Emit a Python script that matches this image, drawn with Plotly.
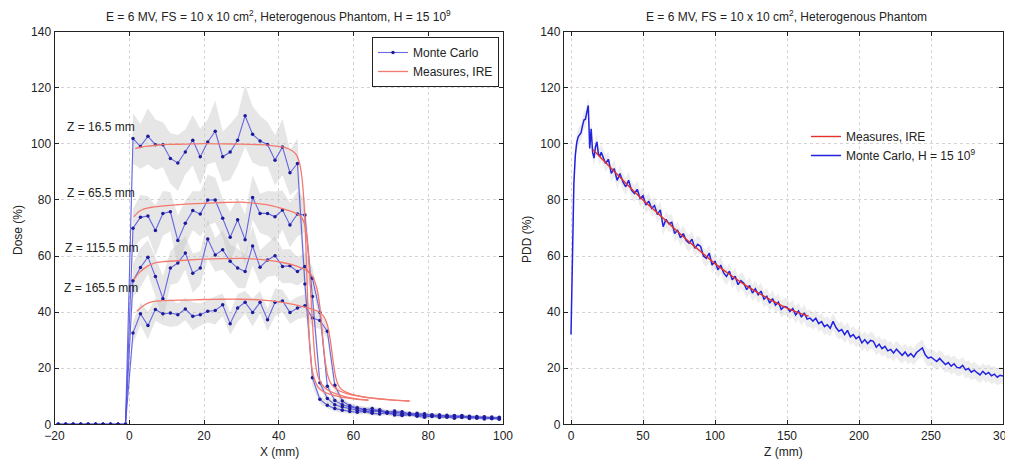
import plotly.graph_objects as go

# ---------------- Left panel data: lateral dose profiles ----------------
x_mc = [-19, -17, -15, -13, -11, -9, -7, -5, -3, -1,
        1, 3, 5, 7, 9, 11, 13, 15, 17, 19, 21, 23, 25, 27, 29, 31, 33, 35, 37, 39,
        41, 43, 45, 47, 49, 51, 53, 55, 57, 59, 61, 63, 65, 67, 69, 71, 73, 75, 77, 79,
        81, 83, 85, 87, 89, 91, 93, 95, 97, 99]

mc_z16 = [0, 0, 0, 0, 0, 0, 0, 0, 0, 0,
          101.9, 99.1, 102.7, 99.7, 99.7, 94.8, 93.2, 97.1, 101.3, 95.4, 100.7, 104.5, 95.4, 97.1, 101.3,
          110.0, 103.4, 101.0, 99.8, 94.2, 98.9, 89.7, 93.0, 50.0, 16.6, 8.9, 6.8, 5.6, 5.0, 4.6,
          4.3, 4.6, 3.9, 3.7, 4.1, 3.3, 3.1, 3.4, 2.9, 2.5, 3.0, 2.4, 2.6, 2.2, 2.8, 2.1, 2.4, 1.9, 2.2, 1.8]
mc_z65 = [0, 0, 0, 0, 0, 0, 0, 0, 0, 0,
          69.9, 73.8, 74.3, 69.1, 75.2, 75.8, 65.5, 71.7, 76.2, 75.0, 80.0, 80.0, 73.5, 66.7, 72.9,
          65.8, 80.9, 75.2, 75.2, 74.0, 76.4, 71.1, 75.0, 74.6, 45.6, 14.8, 9.2, 7.0, 6.2, 5.5,
          5.0, 4.7, 4.4, 4.8, 3.9, 3.8, 3.5, 3.9, 3.2, 3.0, 2.8, 3.2, 2.6, 2.9, 2.4, 2.7, 2.2, 2.5, 2.0, 2.3]
mc_z115 = [0, 0, 0, 0, 0, 0, 0, 0, 0, 0,
           51.2, 55.9, 59.6, 52.7, 44.8, 55.7, 57.5, 61.1, 53.9, 55.7, 66.1, 60.4, 62.2, 58.1, 55.7,
           54.5, 63.6, 56.0, 58.6, 60.1, 56.3, 56.5, 54.5, 56.3, 52.1, 40.0, 13.6, 8.5, 7.0, 6.3,
           5.6, 5.2, 5.6, 4.6, 4.3, 4.7, 3.9, 3.6, 3.9, 3.2, 3.4, 2.9, 3.2, 2.7, 3.1, 2.5, 2.8, 2.3, 2.6, 2.1]
mc_z165 = [0, 0, 0, 0, 0, 0, 0, 0, 0, 0,
           32.6, 39.4, 35.2, 40.9, 39.4, 39.7, 39.1, 41.1, 38.5, 39.1, 40.3, 40.6, 42.6, 35.9, 41.5,
           43.5, 39.9, 43.5, 37.3, 43.5, 44.0, 39.9, 41.5, 42.3, 37.9, 37.0, 33.2, 13.9, 8.3, 6.6,
           5.9, 5.3, 4.8, 5.2, 4.4, 4.1, 4.5, 3.7, 3.5, 3.8, 3.1, 3.3, 2.8, 3.1, 2.6, 2.9, 2.4, 2.7, 2.2, 2.5]

unc_z16 = [0, 0, 0, 0, 0, 0, 0, 0, 0, 0,
           9, 8, 10, 9, 8, 9, 10, 8, 9, 10, 8, 11, 9, 10, 9, 11, 10, 9, 8, 9, 10, 8, 9,
           6, 3, 1.5, 1.2, 1.0, 1.0, 0.9, 0.9, 0.9, 0.8, 0.8, 0.8, 0.8, 0.7, 0.7, 0.7, 0.7, 0.7,
           0.6, 0.6, 0.6, 0.6, 0.6, 0.6, 0.5, 0.5, 0.5]
unc_z65 = [0, 0, 0, 0, 0, 0, 0, 0, 0, 0,
           7, 8, 7, 9, 8, 7, 9, 8, 7, 8, 9, 8, 7, 9, 8, 9, 8, 7, 8, 9, 7, 8, 8, 6,
           4, 2, 1.3, 1.1, 1.0, 1.0, 0.9, 0.9, 0.9, 0.8, 0.8, 0.8, 0.8, 0.7, 0.7, 0.7, 0.7, 0.7,
           0.6, 0.6, 0.6, 0.6, 0.6, 0.5, 0.5, 0.5]
unc_z115 = [0, 0, 0, 0, 0, 0, 0, 0, 0, 0,
            6, 7, 6, 7, 8, 6, 7, 6, 7, 6, 7, 6, 7, 6, 7, 6, 7, 6, 6, 7, 6, 6, 5, 5, 4,
            3, 1.5, 1.1, 1.0, 1.0, 0.9, 0.9, 0.9, 0.8, 0.8, 0.8, 0.8, 0.7, 0.7, 0.7, 0.7, 0.7,
            0.6, 0.6, 0.6, 0.6, 0.6, 0.5, 0.5, 0.5]
unc_z165 = [0, 0, 0, 0, 0, 0, 0, 0, 0, 0,
            4, 4, 5, 4, 4, 5, 4, 4, 5, 4, 4, 5, 4, 4, 5, 4, 5, 4, 4, 5, 4, 4, 4, 4, 3, 3, 2.5,
            2, 1.2, 1.0, 1.0, 0.9, 0.9, 0.9, 0.8, 0.8, 0.8, 0.8, 0.7, 0.7, 0.7, 0.7,
            0.6, 0.6, 0.6, 0.6, 0.6, 0.5, 0.5, 0.5]

meas_x_z16 = [1.6, 3, 5, 8, 10, 15, 20, 25, 30, 35, 38, 41, 43, 44.5, 45.5, 46.2, 46.8, 47.3,
              47.8, 48.3, 49, 50, 51, 53, 55, 58, 61, 64]
meas_y_z16 = [98.3, 98.8, 99.2, 99.6, 99.8, 99.9, 100.1, 100.0, 99.9, 99.7, 99.4, 98.9, 98.0, 96.5,
              93.5, 88, 78, 62, 42, 28, 19, 14.5, 12.5, 11, 10.2, 9.4, 8.9, 8.5]
meas_x_z65 = [1.2, 2.5, 4, 6, 10, 15, 20, 25, 30, 35, 38, 41, 44, 45.5, 46.5, 47.3, 48, 48.6,
              49.2, 49.8, 50.5, 51.5, 53, 55, 58, 61, 64]
meas_y_z65 = [74.0, 75.8, 76.8, 77.4, 78.0, 78.5, 78.8, 79.1, 79.2, 78.6, 78.0, 76.9, 75.6, 74.6,
              72.8, 69, 60, 46, 32, 22, 17, 14.2, 12.3, 11.0, 9.8, 9.1, 8.7]
meas_x_z115 = [1.2, 2.5, 4, 6.5, 9, 15, 20, 25, 30, 35, 41, 45, 47.5, 49, 50.2, 51, 51.7, 52.3,
               53, 54, 55.5, 58, 62, 66, 70, 75]
meas_y_z115 = [51.5, 53.8, 55.6, 57.4, 58.0, 58.5, 58.9, 59.1, 59.2, 58.8, 57.7, 56.3, 54.8, 52.7,
               48.5, 42, 32, 24, 18, 14.5, 12.5, 11.0, 9.9, 9.2, 8.7, 8.3]
meas_x_z165 = [2, 3.5, 5, 6.5, 9, 15, 20, 25, 30, 35, 41, 47, 50.5, 52, 53, 53.8, 54.5, 55.2,
               56, 57, 58.5, 61, 65, 70, 75]
meas_y_z165 = [40.3, 42.0, 43.2, 43.8, 44.1, 44.3, 44.5, 44.6, 44.6, 44.4, 43.5, 41.8, 40.3, 38.5,
               35.5, 30, 23, 17, 13.8, 12.2, 11.2, 10.2, 9.3, 8.7, 8.3]

depth_labels = ["Z = 16.5 mm", "Z = 65.5 mm", "Z = 115.5 mm", "Z = 165.5 mm"]
label_x = [-7.5, -7.5, -7.5, -7.5]
label_y = [106, 82.4, 62.9, 48.7]

# ---------------- Right panel data: depth dose ----------------
z_mc = [0, 1, 2, 3, 4, 5, 6, 7, 8, 9, 10, 11, 12, 13, 14, 15, 16, 17, 18, 19, 20, 21, 22,
        24, 26, 28, 30, 32, 34, 36, 38, 40, 42, 44, 46, 48, 50, 52, 54, 56, 58, 60, 62, 64, 66,
        68, 70, 72, 74, 76, 78, 80, 82, 84, 86, 88, 90, 92, 94, 96, 98, 100, 102, 104, 106,
        108, 110, 112, 114, 116, 118, 120, 122, 124, 126, 128, 130, 132, 134, 136, 138, 140,
        142, 144, 146, 148, 150, 152, 154, 156, 158, 160, 162, 164, 166, 168, 170, 172, 174,
        176, 178, 180, 182, 184, 186, 188, 190, 192, 194, 196, 198, 200, 202, 204, 206, 208,
        210, 212, 214, 216, 218, 220, 222, 224, 226, 228, 230, 232, 234, 236, 238, 240, 242,
        244, 246, 248, 250, 252, 254, 256, 258, 260, 262, 264, 266, 268, 270, 272, 274, 276,
        278, 280, 282, 284, 286, 288, 290, 292, 294, 296, 298, 300]
pdd_mc = [32.0, 68.0, 86.0, 96.0, 100.5, 102.5, 103.5, 104.0, 106.5, 108.5, 108.8, 111.0, 113.7,
          98.4, 105.4, 97.0, 94.9, 99.0, 100.7, 96.5, 95.4, 97.0, 95.6,
          93.0, 94.5, 89.5, 91.2, 87.0, 89.4, 86.5, 84.7, 87.0, 83.5, 82.3, 83.8, 80.5, 81.5,
          78.2, 79.6, 77.0, 78.0, 74.8, 76.5, 70.5, 73.1, 71.5, 72.0, 68.0, 69.3, 66.5, 68.0,
          65.5, 64.6, 66.0, 62.8, 64.2, 63.4, 60.0, 59.2, 61.0, 56.8, 58.2, 55.1, 56.8, 54.0,
          52.7, 54.6, 51.5, 52.8, 49.8, 51.2, 50.3, 48.0, 49.5, 46.8, 48.3, 46.2, 47.5, 44.6,
          45.6, 43.2, 44.8, 42.5, 43.6, 41.0, 42.0, 41.8, 40.2, 41.3, 39.0, 40.4, 38.2, 39.7,
          37.5, 37.9, 36.8, 37.8, 35.9, 36.6, 34.8, 35.5, 34.2, 36.7, 34.5, 33.2, 33.8, 32.0,
          33.5, 31.2, 32.0, 30.5, 31.3, 29.0, 30.2, 28.8, 29.9, 29.6, 27.5, 28.6, 27.0, 27.8,
          26.2, 26.7, 25.4, 26.8, 25.5, 24.6, 25.8, 24.3, 25.2, 24.0, 25.6, 26.4, 27.2, 24.8,
          23.6, 24.0, 23.1, 22.4, 23.5, 22.5, 21.3, 22.0, 20.7, 21.6, 20.3, 20.1, 21.0, 19.4,
          19.9, 18.6, 19.3, 18.4, 17.6, 18.9, 17.8, 18.5, 17.3, 17.9, 16.8, 17.5, 17.2]
pdd_unc = 3.0

z_meas = [15, 18, 25, 30, 40, 50, 60, 70, 80, 90, 100, 110, 120, 130, 140, 150, 160, 165]
pdd_meas = [98.0, 96.5, 92.8, 90.2, 85.0, 80.0, 75.4, 70.6, 66.0, 61.6, 57.3, 53.5, 50.0, 46.9,
            44.0, 41.4, 39.4, 38.6]

# ---------------- Styling / layout helpers ----------------
FONT = "Liberation Sans, Arial, Helvetica, sans-serif"
BAND = "rgba(195,195,195,0.42)"
MC_LINE_L = "rgba(80,80,225,0.85)"
MC_MARK = "#1c1c9a"
MEAS_L = "#f27a6e"
MC_R = "#2222e0"
MEAS_R = "#e4312b"

# the page body has an 8 px margin; the figure is sized so it fits the window
OFF = 8
W, H = 1013 - OFF, 460 - OFF


def px(xp):  # page pixel -> paper x
    return (xp - OFF) / W


def py(yp):  # page pixel -> paper y
    return 1 - (yp - OFF) / H


fig = go.Figure()

profiles = [
    (mc_z16, unc_z16, meas_x_z16, meas_y_z16),
    (mc_z65, unc_z65, meas_x_z65, meas_y_z65),
    (mc_z115, unc_z115, meas_x_z115, meas_y_z115),
    (mc_z165, unc_z165, meas_x_z165, meas_y_z165),
]

# uncertainty bands
for mc, unc, _, _ in profiles:
    upper = [v + u for v, u in zip(mc, unc)]
    lower = [v - u for v, u in zip(mc, unc)]
    fig.add_trace(go.Scatter(
        x=x_mc + x_mc[::-1], y=upper + lower[::-1], fill="toself", fillcolor=BAND,
        line=dict(width=0), mode="lines", showlegend=False, hoverinfo="skip",
        xaxis="x", yaxis="y"))

for i, (mc, unc, mx, my) in enumerate(profiles):
    fig.add_trace(go.Scatter(
        x=x_mc, y=mc, mode="lines+markers", name="Monte Carlo",
        line=dict(color=MC_LINE_L, width=1.1),
        marker=dict(color=MC_MARK, size=3.5),
        showlegend=(i == 0), legend="legend", legendrank=1,
        xaxis="x", yaxis="y"))
for i, (mc, unc, mx, my) in enumerate(profiles):
    fig.add_trace(go.Scatter(
        x=mx, y=my, mode="lines", name="Measures, IRE",
        line=dict(color=MEAS_L, width=1.3, shape="spline", smoothing=0.5),
        showlegend=(i == 0), legend="legend", legendrank=2,
        xaxis="x", yaxis="y"))

# right panel
up_r = [v + pdd_unc for v in pdd_mc]
lo_r = [v - pdd_unc for v in pdd_mc]
fig.add_trace(go.Scatter(
    x=z_mc + z_mc[::-1], y=up_r + lo_r[::-1], fill="toself", fillcolor="rgba(200,200,200,0.32)",
    line=dict(width=0), mode="lines", showlegend=False, hoverinfo="skip",
    xaxis="x2", yaxis="y2"))
fig.add_trace(go.Scatter(
    x=z_mc, y=pdd_mc, mode="lines", name="Monte Carlo, H = 15 10<sup>9</sup>",
    line=dict(color=MC_R, width=1.5), legend="legend2", legendrank=2,
    xaxis="x2", yaxis="y2"))
fig.add_trace(go.Scatter(
    x=z_meas, y=pdd_meas, mode="lines", name="Measures, IRE",
    line=dict(color=MEAS_R, width=1.4, shape="spline", smoothing=0.6),
    legend="legend2", legendrank=1,
    xaxis="x2", yaxis="y2"))

axis_common = dict(
    showline=True, linecolor="#222", linewidth=1, mirror="ticks",
    ticks="inside", ticklen=4, tickcolor="#222",
    showgrid=True, gridcolor="#d4d4d4", griddash="dot", gridwidth=1,
    zeroline=False, automargin=False, ticklabeloverflow="allow",
    tickfont=dict(family=FONT, size=12, color="#222"),
)

y_dom = [py(424.3), py(31.7)]

fig.update_layout(
    width=W, height=H,
    margin=dict(l=0, r=0, t=0, b=0, pad=0, autoexpand=False),
    paper_bgcolor="white", plot_bgcolor="white",
    font=dict(family=FONT, size=12, color="#222"),
    xaxis=dict(domain=[px(54.5), px(503)], range=[-20, 100], dtick=20, anchor="y", **axis_common),
    yaxis=dict(domain=y_dom, range=[0, 140], dtick=20, anchor="x", **axis_common),
    xaxis2=dict(domain=[px(563.8), px(1003)], range=[-5, 300], dtick=50, anchor="y2", **axis_common),
    yaxis2=dict(domain=y_dom, range=[0, 140], dtick=20, anchor="x2", **axis_common),
    legend=dict(x=px(499), y=py(37), xanchor="right", yanchor="top",
                bgcolor="white", bordercolor="#222", borderwidth=1,
                font=dict(family=FONT, size=12, color="#222"),
                tracegroupgap=0, itemwidth=30),
    legend2=dict(x=px(806), y=py(122), xanchor="left", yanchor="top",
                 bgcolor="rgba(255,255,255,0)", borderwidth=0,
                 font=dict(family=FONT, size=12, color="#222"),
                 tracegroupgap=0, itemwidth=30),
    showlegend=True,
)

annotations = [
    dict(text="E = 6 MV, FS = 10 x 10 cm<sup>2</sup>, Heterogenous Phantom, H = 15 10<sup>9</sup>",
         x=px(278.5), y=py(16), xref="paper", yref="paper", showarrow=False,
         font=dict(size=12), xanchor="center", yanchor="middle"),
    dict(text="E = 6 MV, FS = 10 x 10 cm<sup>2</sup>, Heterogenous Phantom",
         x=px(786), y=py(16), xref="paper", yref="paper", showarrow=False,
         font=dict(size=12), xanchor="center", yanchor="middle"),
    dict(text="X (mm)", x=px(279), y=py(452), xref="paper", yref="paper", showarrow=False,
         font=dict(size=12), xanchor="center", yanchor="middle"),
    dict(text="Z (mm)", x=px(783), y=py(452), xref="paper", yref="paper", showarrow=False,
         font=dict(size=12), xanchor="center", yanchor="middle"),
    dict(text="Dose (%)", x=px(18), y=py(230), xref="paper", yref="paper", showarrow=False,
         font=dict(size=12), textangle=-90, xanchor="center", yanchor="middle"),
    dict(text="PDD (%)", x=px(527), y=py(240), xref="paper", yref="paper", showarrow=False,
         font=dict(size=12), textangle=-90, xanchor="center", yanchor="middle"),
]
for t, lx, ly in zip(depth_labels, label_x, label_y):
    annotations.append(dict(text=t, x=lx, y=ly, xref="x", yref="y", showarrow=False,
                            font=dict(size=12), xanchor="center", yanchor="middle"))
fig.update_layout(annotations=annotations)

fig.write_html("out.html")
